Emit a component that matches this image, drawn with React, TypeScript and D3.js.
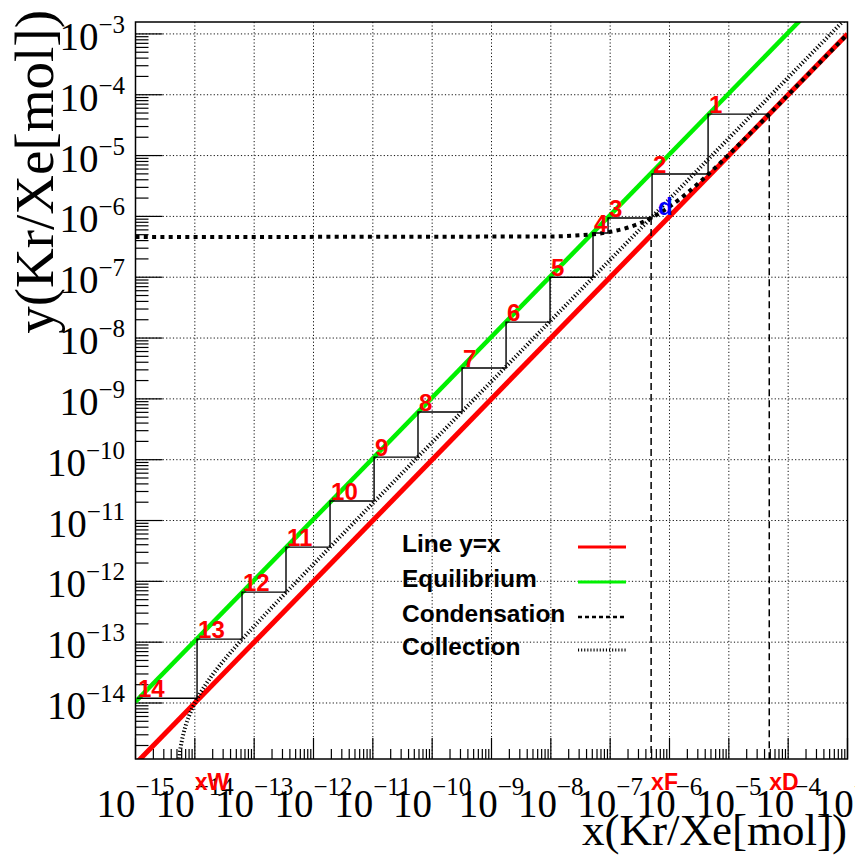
import { useEffect, useRef } from 'react';
import * as d3 from 'd3';

const W = 855;
const H = 862;

// axis decades (exponents)
const xDecades = [-15, -14, -13, -12, -11, -10, -9, -8, -7, -6, -5, -4, -3];
const yDecades = [-14, -13, -12, -11, -10, -9, -8, -7, -6, -5, -4, -3];

// y = x line
const diagX = [1e-15, 1e-3];
const diagY = [1e-15, 1e-3];

// equilibrium line
const eqX = [1e-15, 1e-3];
const eqY = [1.05e-14, 1.05e-2];

// condensation (rectifying) operating line
const condX = [1e-15, 1e-8, 3e-8, 6e-8, 1e-7, 2e-7, 3e-7, 5e-7, 7e-7, 1e-6, 2e-6, 3e-6, 5e-6, 1e-5, 2e-5, 5e-5, 1e-4, 1e-3];
const condY = [4.58e-7, 4.68e-7, 4.88e-7, 5.17e-7, 5.57e-7, 6.56e-7, 7.55e-7, 9.53e-7, 1.15e-6, 1.45e-6, 2.44e-6, 3.43e-6, 5.41e-6, 1.036e-5, 2.03e-5, 5.0e-5, 9.95e-5, 9.9e-4];

// collection (stripping) operating line
const collX = [5e-15, 5.5e-15, 6e-15, 7e-15, 8e-15, 1e-14, 1.5e-14, 2e-14, 3e-14, 5e-14, 1e-13, 3e-13, 1e-12, 1e-11, 1e-3];
const collY = [3.8e-16, 1.34e-15, 2.3e-15, 4.23e-15, 6.15e-15, 1e-14, 1.96e-14, 2.93e-14, 4.85e-14, 8.7e-14, 1.83e-13, 5.68e-13, 1.915e-12, 1.924e-11, 1.92e-3];

// staircase corners on the equilibrium line
const stepLabels = ['1', '2', '3', '4', '5', '6', '7', '8', '9', '10', '11', '12', '13', '14'];
const stepX = [4.47e-6, 5.08e-7, 9.2e-8, 5.14e-8, 9.7e-9, 1.76e-9, 3.19e-10, 5.77e-11, 1.05e-11, 1.9e-12, 3.44e-13, 6.24e-14, 1.09e-14, 1.06e-15];
const stepY = [4.8e-5, 4.98e-6, 9.4e-7, 5.33e-7, 1.0e-7, 1.83e-8, 3.21e-9, 6.07e-10, 1.1e-10, 2.09e-11, 3.65e-12, 6.64e-13, 1.12e-13, 1.2e-14];

const xD = 4.8e-5;
const xF = 4.9e-7;
const xW = 1e-14;
const dY = 9.43e-7;
const markNames = ['xW', 'xF', 'xD'];
const markValues = [xW, xF, xD];

const legendNames = ['Line y=x', 'Equilibrium', 'Condensation', 'Collection'];

const serif = '"Liberation Serif", "Times New Roman", serif';
const sans = '"Liberation Sans", Arial, Helvetica, sans-serif';

function Chart() {
  const ref = useRef(null);

  useEffect(() => {
    const svg = d3.select(ref.current);
    svg.selectAll('*').remove();

    const L = 135.5, R = 847.5, T = 22, B = 759;
    const x = d3.scaleLog().domain([1e-15, 1e-3]).range([L, R]);
    const y = d3.scaleLog().domain([1.2e-15, 1.57e-3]).range([B, T]);

    svg.append('rect').attr('width', W).attr('height', H).attr('fill', '#fff');

    svg.append('clipPath').attr('id', 'plotclip')
      .append('rect').attr('x', L).attr('y', T).attr('width', R - L).attr('height', B - T);

    // grid
    const grid = svg.append('g').attr('stroke', '#111').attr('stroke-width', 1).attr('stroke-dasharray', '1.2 2.2');
    xDecades.slice(1, -1).forEach(e => {
      grid.append('line').attr('x1', x(10 ** e)).attr('x2', x(10 ** e)).attr('y1', T).attr('y2', B);
    });
    yDecades.forEach(e => {
      grid.append('line').attr('x1', L).attr('x2', R).attr('y1', y(10 ** e)).attr('y2', y(10 ** e));
    });

    // ticks
    const ticks = svg.append('g').attr('stroke', '#000').attr('stroke-width', 1.2);
    xDecades.forEach(e => {
      const d = 10 ** e;
      ticks.append('line').attr('x1', x(d)).attr('x2', x(d)).attr('y1', B).attr('y2', B - 21);
      if (e < -3) {
        for (let k = 2; k <= 9; k++) {
          ticks.append('line').attr('x1', x(d * k)).attr('x2', x(d * k)).attr('y1', B).attr('y2', B - 10);
        }
      }
    });
    [-15, ...yDecades].forEach(e => {
      const d = 10 ** e;
      if (d >= 1.2e-15) {
        ticks.append('line').attr('x1', L).attr('x2', L + 27).attr('y1', y(d)).attr('y2', y(d));
      }
      for (let k = 2; k <= 9; k++) {
        const v = d * k;
        if (v > 1.2e-15 && v < 1.57e-3) {
          ticks.append('line').attr('x1', L).attr('x2', L + 13).attr('y1', y(v)).attr('y2', y(v));
        }
      }
    });

    const plot = svg.append('g').attr('clip-path', 'url(#plotclip)');
    const line = d3.line().x(d => x(d[0])).y(d => y(d[1]));
    const curve = d3.line().x(d => x(d[0])).y(d => y(d[1])).curve(d3.curveMonotoneX);

    plot.append('path').attr('d', line(diagX.map((v, i) => [v, diagY[i]])))
      .attr('fill', 'none').attr('stroke', '#ff0000').attr('stroke-width', 5);
    plot.append('path').attr('d', line(eqX.map((v, i) => [v, eqY[i]])))
      .attr('fill', 'none').attr('stroke', '#00f000').attr('stroke-width', 4.5);
    plot.append('path').attr('d', curve(collX.map((v, i) => [v, collY[i]])))
      .attr('fill', 'none').attr('stroke', '#000').attr('stroke-width', 4).attr('stroke-dasharray', '1.2 2.2');
    plot.append('path').attr('d', curve(condX.map((v, i) => [v, condY[i]])))
      .attr('fill', 'none').attr('stroke', '#000').attr('stroke-width', 4).attr('stroke-dasharray', '4 4.3');

    // staircase
    const stairs = [[xD, stepY[0]]];
    stepX.forEach((v, i) => {
      stairs.push([v, stepY[i]]);
      if (i + 1 < stepY.length) stairs.push([v, stepY[i + 1]]);
    });
    plot.append('path').attr('d', line(stairs))
      .attr('fill', 'none').attr('stroke', '#000').attr('stroke-width', 1.4);

    // feed and distillate markers
    plot.append('line').attr('x1', x(xF)).attr('x2', x(xF)).attr('y1', y(dY)).attr('y2', B)
      .attr('stroke', '#000').attr('stroke-width', 1.5).attr('stroke-dasharray', '7 4');
    plot.append('line').attr('x1', x(xD)).attr('x2', x(xD)).attr('y1', y(xD)).attr('y2', B)
      .attr('stroke', '#000').attr('stroke-width', 1.5).attr('stroke-dasharray', '7 4');

    // frame
    svg.append('rect').attr('x', L).attr('y', T).attr('width', R - L).attr('height', B - T)
      .attr('fill', 'none').attr('stroke', '#000').attr('stroke-width', 1.5);

    // step numbers
    svg.append('g').selectAll('text').data(stepLabels).join('text')
      .attr('x', (d, i) => x(stepX[i]) + 1)
      .attr('y', (d, i) => y(stepY[i]) - 1)
      .attr('fill', '#ff0000').attr('font-family', sans).attr('font-weight', 'bold').attr('font-size', 24)
      .text(d => d);

    svg.append('text').attr('x', x(xF) + 7).attr('y', y(dY) - 3)
      .attr('fill', '#0000ff').attr('font-family', sans).attr('font-weight', 'bold').attr('font-size', 24)
      .text('d');

    // tick labels
    const tl = svg.append('g').attr('font-family', serif).attr('fill', '#000');
    xDecades.forEach(e => {
      const t = tl.append('text').attr('x', x(10 ** e)).attr('y', 817).attr('text-anchor', 'middle').attr('font-size', 39);
      t.append('tspan').text('10');
      t.append('tspan').attr('dy', -22).attr('font-size', 25).text(`\u2212${-e}`);
    });
    yDecades.forEach(e => {
      const t = tl.append('text').attr('x', 125).attr('y', y(10 ** e) + 16).attr('text-anchor', 'end').attr('font-size', 39);
      t.append('tspan').text('10');
      t.append('tspan').attr('dy', -17).attr('font-size', 25).text(`\u2212${-e}`);
    });

    // marker names under the axis
    svg.append('g').selectAll('text').data(markNames).join('text')
      .attr('x', (d, i) => x(markValues[i]))
      .attr('y', 790)
      .attr('fill', '#ff0000').attr('font-family', sans).attr('font-weight', 'bold').attr('font-size', 23)
      .text(d => d);

    // axis titles
    svg.append('text').attr('x', 847).attr('y', 845).attr('text-anchor', 'end')
      .attr('font-family', serif).attr('font-size', 45).text('x(Kr/Xe[mol])');
    svg.append('text').attr('transform', 'translate(53,10) rotate(-90)').attr('text-anchor', 'end')
      .attr('font-family', serif).attr('font-size', 55).text('y(Kr/Xe[mol])');

    // legend
    const lg = svg.append('g');
    const rowY = [552, 587, 622, 655];
    legendNames.forEach((name, i) => {
      lg.append('text').attr('x', 402).attr('y', rowY[i])
        .attr('font-family', sans).attr('font-weight', 'bold').attr('font-size', 24.5).text(name);
    });
    const sample = (i, stroke, w, dash) => {
      const s = lg.append('line').attr('x1', 578).attr('x2', 626).attr('y1', rowY[i] - 5).attr('y2', rowY[i] - 5)
        .attr('stroke', stroke).attr('stroke-width', w);
      if (dash) s.attr('stroke-dasharray', dash);
    };
    sample(0, '#ff0000', 3, null);
    sample(1, '#00f000', 3, null);
    sample(2, '#000', 2.5, '4 3');
    sample(3, '#000', 3, '1.1 2');
  }, []);

  return <svg ref={ref} width={W} height={H} style={{ position: 'absolute', left: 0, top: 0 }} />;
}

export default function App() {
  return <Chart />;
}
